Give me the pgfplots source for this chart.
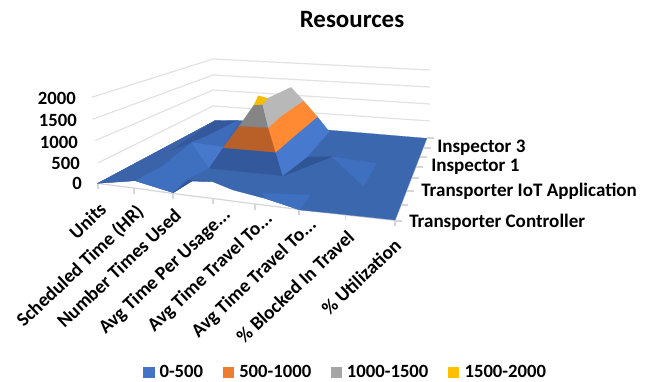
\documentclass[border=0pt]{standalone}
\usepackage{pgfplots}
\pgfplotsset{compat=1.18}
\usepackage{fontspec}
\setmainfont{Carlito}
\definecolor{wall}{HTML}{E2E2E2}
\definecolor{axisline}{HTML}{D6D6D6}
\definecolor{base}{HTML}{3B67AF}
\definecolor{baseB}{HTML}{3A63A9}
\definecolor{ridge}{HTML}{33589C}
\definecolor{valley}{HTML}{2F5597}
\definecolor{blueA}{HTML}{3F6FBF}
\definecolor{blueB}{HTML}{4678CC}
\definecolor{blueC}{HTML}{3E6CBA}
\definecolor{peakBlueDark}{HTML}{33589B}
\definecolor{peakBlueLight}{HTML}{4779CE}
\definecolor{peakShade}{HTML}{2F5594}
\definecolor{orangeDark}{HTML}{B86028}
\definecolor{orangeLight}{HTML}{FF8A33}
\definecolor{grayDark}{HTML}{858585}
\definecolor{grayLight}{HTML}{B8B8B8}
\definecolor{yellowTop}{HTML}{F5BC00}
\definecolor{legA}{HTML}{4472C4}
\definecolor{legB}{HTML}{ED7D31}
\definecolor{legC}{HTML}{A5A5A5}
\definecolor{legD}{HTML}{FFC000}
\pgfplotsset{
  facet/.style={fill=#1,draw=#1,line width=0.15pt,mark=none,forget plot},
  grid line/.style={draw=wall,line width=0.9pt,mark=none,forget plot},
  tick line/.style={draw=axisline,line width=0.9pt,mark=none,forget plot},
}
\begin{document}
\begin{tikzpicture}
\begin{axis}[
  scale only axis, width=486pt, height=285.75pt,
  xmin=0, xmax=648, ymin=0, ymax=381, y dir=reverse,
  axis lines=none, clip=false,
]
\path (axis cs:0,0) rectangle (axis cs:648,381);

% Value gridlines on the two walls: 500, 1000, 1500, 2000
\addplot[grid line] coordinates {(91.7,97.3) (213,59) (430,70)};
\addplot[grid line] coordinates {(92.7,119.3) (213,75) (430,87)};
\addplot[grid line] coordinates {(95,140.7) (213,90) (430,104)};
\addplot[grid line] coordinates {(98.3,162.7) (213,106) (430,121)};

% Category axis along the front edge, with its ticks
\addplot[tick line] coordinates {(98,183.5) (134,188) (173,193.5) (213,198.5) (255,204) (299,209.5) (345.7,215) (395,220.5)};
\addplot[tick line] coordinates {(98,183) (98,189)};
\addplot[tick line] coordinates {(134,188) (134,193.5)};
\addplot[tick line] coordinates {(173,193) (173,199)};
\addplot[tick line] coordinates {(213,198) (213,204)};
\addplot[tick line] coordinates {(255,204) (255,209.5)};
\addplot[tick line] coordinates {(299,209) (299,214.5)};
\addplot[tick line] coordinates {(345.7,215) (345.7,220)};
\addplot[tick line] coordinates {(395,220) (395,226)};

% Series axis along the right edge, with its ticks
\addplot[tick line] coordinates {(395,221) (427,138)};
\addplot[tick line] coordinates {(395,221) (402,221)};
\addplot[tick line] coordinates {(401,205) (408,205)};
\addplot[tick line] coordinates {(406.5,191) (413.5,191)};
\addplot[tick line] coordinates {(411.5,178) (418.5,178)};
\addplot[tick line] coordinates {(416,167) (423,167)};
\addplot[tick line] coordinates {(420,157) (427,157)};
\addplot[tick line] coordinates {(423.5,148) (430.5,148)};
\addplot[tick line] coordinates {(427,138) (434,138)};

% Floor of the surface, 0-500 band
\addplot[facet=base] coordinates {(97.7,183.3) (135,180.7) (173.3,192.7) (192,181) (212,181.5) (233,190) (267,199) (300,210) (330,213) (395,220) (426.7,138.3) (328,130) (240,120.5) (215,120.7)} --cycle;
\addplot[facet=baseB] coordinates {(97.7,183.3) (215,120.7) (206.7,135) (191.7,142.3) (161.7,166.7) (135,180.7)} --cycle;
\addplot[facet=ridge] coordinates {(215,120.7) (238,120.5) (224,131) (206.7,136) (191.7,142.3) (172,150)} --cycle;

% Low bump to the left of the peak
\addplot[facet=blueC] coordinates {(191.7,142.3) (206.7,136) (238,120.5) (224,147)} --cycle;
\addplot[facet=blueA] coordinates {(135,180.7) (161.7,166.7) (191.7,142.3) (209,168) (185,180) (173.3,192.7)} --cycle;
\addplot[facet=blueB] coordinates {(191.7,142.3) (224,147) (209,168)} --cycle;
\addplot[facet=valley] coordinates {(173.3,192.7) (189,180) (212,181.5) (192,181)} --cycle;

% Lighter facets on the floor towards the front and right
\addplot[facet=blueA] coordinates {(261.7,193.3) (310,195) (300,210) (267,199)} --cycle;
\addplot[facet=blueA] coordinates {(332,156.7) (376.7,163.3) (363.3,186)} --cycle;
\addplot[facet=peakShade] coordinates {(283,176) (307,157) (332,156.7)} --cycle;

% Peak, 0-500 band
\addplot[facet=peakBlueDark] coordinates {(223.3,147.7) (275.7,152.3) (282.7,175.7) (209.3,168.3)} --cycle;
\addplot[facet=peakBlueLight] coordinates {(275.7,152.3) (291.7,138.3) (317.3,116.7) (329.3,131.7) (307,157) (282.7,175.7)} --cycle;

% Peak, 500-1000 band
\addplot[facet=orangeDark] coordinates {(239.3,126) (268.3,127.7) (275.7,152.3) (223.3,147.7)} --cycle;
\addplot[facet=orangeLight] coordinates {(268.3,127.7) (280,116.7) (303.3,100.7) (317.3,116.7) (291.7,138.3) (275.7,152.3)} --cycle;

% Peak, 1000-1500 band
\addplot[facet=grayDark] coordinates {(254,105) (262.7,104.3) (268.3,127.7) (239.3,126)} --cycle;
\addplot[facet=grayLight] coordinates {(262.7,104.3) (267.7,98.3) (291,87.3) (303.3,100.7) (280,116.7) (268.3,127.7)} --cycle;

% Peak, 1500-2000 band
\addplot[facet=yellowTop] coordinates {(258.3,95.7) (267.7,98.3) (262.7,104.3) (254,105)} --cycle;

% Legend keys
\addplot[facet=legA] coordinates {(143.5,366.8) (153.8,366.8) (153.8,376.8) (143.5,376.8)} --cycle;
\addplot[facet=legB] coordinates {(223.3,366.8) (233.3,366.8) (233.3,376.8) (223.3,376.8)} --cycle;
\addplot[facet=legC] coordinates {(330.8,366.8) (341.2,366.8) (341.2,376.8) (330.8,376.8)} --cycle;
\addplot[facet=legD] coordinates {(448,366.8) (458,366.8) (458,376.8) (448,376.8)} --cycle;

\begin{scope}[every node/.style={font=\fontsize{14}{16}\selectfont\bfseries,inner sep=0pt,text=black}]
  \node[font=\fontsize{18.7}{22}\selectfont\bfseries] at (axis cs:352,20) {Resources};

  % Value labels
  \node[anchor=east] at (axis cs:76,98) {2000};
  \node[anchor=east] at (axis cs:77,120) {1500};
  \node[anchor=east] at (axis cs:78,142) {1000};
  \node[anchor=east] at (axis cs:80,163) {500};
  \node[anchor=east] at (axis cs:82,183) {0};

  % Series labels
  \begin{scope}[every node/.append style={font=\fontsize{14.3}{16}\selectfont\bfseries}]
  \node[anchor=west] at (axis cs:437,148) {Inspector 3};
  \node[anchor=west] at (axis cs:431,167) {Inspector 1};
  \node[anchor=west] at (axis cs:421,191) {Transporter IoT Application};
  \node[anchor=west] at (axis cs:409,222) {Transporter Controller};
  \end{scope}

  % Category labels
  \begin{scope}[every node/.append style={font=\fontsize{14.5}{16}\selectfont\bfseries}]
  \node[anchor=east,rotate=43.5] at (axis cs:103,206) {Units};
  \node[anchor=east,rotate=43.5] at (axis cs:141,209) {Scheduled Time (HR)};
  \node[anchor=east,rotate=43.5] at (axis cs:178,212) {Number Times Used};
  \node[anchor=east,rotate=43.5] at (axis cs:228,212) {Avg Time Per Usage...};
  \node[anchor=east,rotate=43.5] at (axis cs:270,216) {Avg Time Travel To...};
  \node[anchor=east,rotate=43.5] at (axis cs:314,222) {Avg Time Travel To...};
  \node[anchor=east,rotate=43.5] at (axis cs:351,234) {\% Blocked In Travel};
  \node[anchor=east,rotate=43.5] at (axis cs:398,242) {\% Utilization};
  \end{scope}

  % Legend labels
  \node[anchor=west] at (axis cs:159.3,371) {0-500};
  \node[anchor=west] at (axis cs:239,371) {500-1000};
  \node[anchor=west] at (axis cs:346.7,371) {1000-1500};
  \node[anchor=west] at (axis cs:464.3,371) {1500-2000};
\end{scope}
\end{axis}
\end{tikzpicture}
\end{document}
